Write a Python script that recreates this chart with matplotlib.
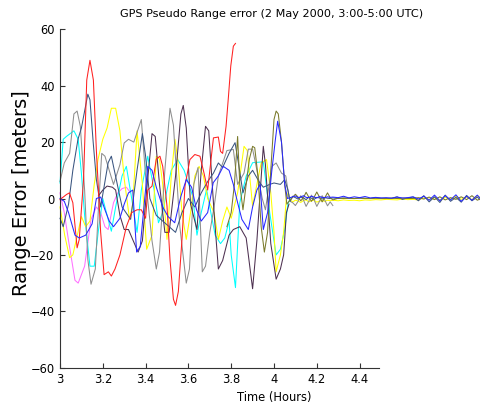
import matplotlib
matplotlib.use("Agg")
import matplotlib.pyplot as plt

# ---------------- data (hours, metres) ----------------
red_t = [3.00,3.03,3.044,3.06,3.08,3.09,3.11,3.125,3.14,3.156,3.17,3.19,3.206,3.226,3.24,3.257,3.28,3.31,3.335,3.36,3.38,3.40,3.41,3.43,3.45,3.467,3.48,3.50,3.514,3.53,3.54,3.553,3.57,3.584,3.607,3.63,3.654,3.673,3.69,3.706,3.717,3.74,3.75,3.76,3.776,3.787,3.798,3.81,3.82]
red_v = [-0.4,1.4,2,-1.5,-17.5,-14.5,6.7,42,49,42,17,-12,-27,-26,-27.5,-25,-20,-10,-5,-4,-4,-7,3,4.4,14,15,11.4,-2.7,-21.6,-35.7,-37.9,-33,-14.5,4.4,13.8,15.6,15,9,3,14,21.5,21.8,16.7,16,25.6,36,47,54,55]

yel_t = [3.00,3.022,3.045,3.06,3.084,3.10,3.12,3.14,3.16,3.178,3.20,3.22,3.24,3.26,3.28,3.30,3.325,3.34,3.36,3.385,3.405,3.43,3.45,3.465,3.48,3.50,3.52,3.537,3.55,3.57,3.59,3.61,3.63,3.65,3.67,3.69,3.72,3.74,3.76,3.78,3.80,3.83,3.86,3.875,3.90,3.92,3.94,3.965,3.985,4.00,4.01,4.03,4.045,4.06,4.075]
yel_v = [-3,-13,-21,-20,-12,-6.4,-10,-8,5,14,21,25,32,32,24,7,-7.4,-2,24,5,-18,-13,15,14,5,-14.5,8,21,14,-5,-14.5,-5,8,11.4,8,0,-5,-14.5,-8,-3,-7,2,18.5,17,-2.7,5,12.6,13.8,2,-12,-26,-20,-12,2,-0.5]

cyan_t = [3.00,3.015,3.03,3.065,3.085,3.10,3.115,3.14,3.16,3.18,3.20,3.225,3.24,3.26,3.29,3.31,3.335,3.36,3.38,3.41,3.44,3.46,3.48,3.50,3.52,3.55,3.58,3.62,3.64,3.66,3.685,3.70,3.725,3.75,3.77,3.79,3.80,3.82,3.84,3.87,3.90,3.95,3.98,4.01,4.03,4.05,4.065,4.075]
cyan_v = [5.5,21,22,24,21,9,-6,-24,-24,-11,0,-7.4,-11.6,-3,8,11.4,0,-12,3,15,3,-8.6,-5,3,10,13.8,10,0.8,-13,-5,3.2,-3,-13,-16,-14,-8,-20,-31.6,-1.5,8,12.7,13,-5,-20,-18,-11,-2,0]

mag_t = [3.00,3.02,3.04,3.07,3.085,3.115,3.145,3.17,3.19,3.21,3.225,3.25,3.27,3.29,3.31,3.33]
mag_v = [2,-5,-15,-29,-30,-24,-7.4,-3,-5,-10,-11,-1.5,2,3.5,4,2]

blue_t = [3.00,3.02,3.04,3.07,3.09,3.12,3.15,3.17,3.19,3.21,3.23,3.25,3.28,3.30,3.32,3.34,3.358,3.375,3.41,3.43,3.45,3.48,3.505,3.536,3.565,3.59,3.615,3.638,3.66,3.69,3.716,3.74,3.763,3.79,3.81,3.83,3.85,3.88,3.90,3.92,3.935,3.95,3.97,3.99,4.005,4.017,4.035,4.05,4.063]
blue_v = [0,-1,-5,-13,-14,-13,-9,0,0.5,-4,-8,-10,-7,-2,2,3,-19,-17,11.4,10,4,-3,-6.4,-8.6,0.8,6.7,4,-4,-8,-5,5.6,8,11.4,10,5,-1.5,-7.4,-11,-3,3,5,-11,-5,10,20,27.4,20,5,0]

steel_t = [3.00,3.015,3.04,3.06,3.084,3.10,3.13,3.14,3.155,3.17,3.19,3.225,3.24,3.26,3.29,3.33,3.36,3.385,3.40,3.42,3.45,3.48,3.51,3.54,3.57,3.60,3.63,3.66,3.69,3.717,3.74,3.76,3.79,3.818,3.835,3.855,3.88,3.90,3.93,3.95,3.98,4.00,4.03,4.05,4.065,4.075]
steel_v = [-7,-10,-2,10,21,25,37,35,20,6.7,-3,12.7,15,7.8,-3,-7.4,10,23,15,0,-6,-8,-10,-12,-5,0,-3,2,6,9,12.6,11,16,19.8,12,2,8,10,6,4,5,5.5,5,6.7,3,-1]

grayA_t = [3.00,3.02,3.045,3.065,3.08,3.095,3.115,3.13,3.145,3.165,3.18,3.195,3.21,3.25,3.28,3.30,3.32,3.345,3.38,3.405,3.43,3.45,3.465,3.49,3.514,3.53,3.56,3.59,3.605,3.625,3.645,3.665,3.68,3.70,3.72,3.74,3.78,3.81,3.83,3.86,3.88,3.90,3.915,3.945,3.96,3.99,4.01,4.035,4.055,4.065,4.075]
grayA_v = [6,12.6,16,30,31,25.6,3,-21.6,-30.4,-25,-3,16,15,5,12,19.7,21,20,28,3,-15,-25,-19,10,32,26,-10,-30,-25,5,11,-26,-24,-12,-3,8,17,17.4,5,9,17.5,17.5,12,0,-4,11.4,12.6,9,8,3,-1]

purp_t = [3.18,3.20,3.22,3.245,3.26,3.28,3.30,3.32,3.34,3.365,3.385,3.405,3.43,3.445,3.465,3.49,3.51,3.54,3.565,3.576,3.59,3.61,3.64,3.66,3.68,3.695,3.72,3.74,3.76,3.79,3.81,3.84,3.87,3.90,3.92,3.95,3.96,3.985,4.01,4.03,4.045,4.058,4.07]
purp_v = [1,3,4.4,4,3,-6,-11,-11,-14.6,-19,-15,3,23,22,5,-12,-12,8,30,33,25,-2,-11,10,25.6,24,-5,-25,-22,-13,-11,-10,-14,-32,-15,18.5,12,-16,-28.6,-25,-20,-5,-2]

olive_t = [3.78,3.80,3.815,3.83,3.84,3.855,3.87,3.885,3.90,3.91,3.925,3.94,3.955,3.97,3.985,4.00,4.01,4.02,4.035,4.05,4.06,4.07]
olive_v = [-10,-5,5,22,5,-4,5,14,18.5,18,8,-10,-19,-12,10,28,31,30,20,5,-2,-1]

# after 4.07 h: small residual errors
post1_t = [4.0875,4.10,4.1125,4.125,4.1375,4.15,4.1625,4.175,4.1875,4.20,4.2125,4.225,4.2375,4.25,4.2625,4.275]
olive_p1 = [0.5,1.5,0.5,-0.8,0.3,2.2,0.5,-1.0,0.5,2.3,0.5,-1.2,0.3,2.0,0.3,-0.5]
grayA_p1 = [-1.5,-2.5,-1.0,1.0,-0.5,-2.8,-1.0,1.2,-0.5,-2.8,-1.0,1.0,-0.6,-2.6,-1.2,-2.5]
blue_p1 = [0.6,0.9,0.3,0.5,1.0,0.4,0.3,0.8,0.5,0.2,0.7,0.4,0.3,0.6,0.4,0.5]
yel_p1 = [-1.2,-0.6,-0.9,-1.4,-0.7,-0.5,-1.2,-0.8,-0.6,-1.3,-0.9,-0.7,-1.0,-0.6,-0.8,-0.6]
steel_p1 = [0.8,0.3,-0.2,0.6,0.2,-0.4,0.5,0.1,-0.3,0.4,0.2,-0.2,0.3,0.1,0.0,0.2]

post2_t = [4.30,4.325,4.35,4.375,4.40,4.425,4.45,4.475,4.50,4.525,4.55,4.575,4.60,4.625,4.65,4.675,4.70,4.725,4.75,4.775,4.80,4.825,4.85,4.875,4.90,4.925,4.95,4.975,5.0]
blue_p2 = [0.3,0.8,0.2,0.6,0.3,0.7,0.2,0.4,0.2,0.3,0.1,0.5,0.2,0.3,0.6,-0.2,0.8,-0.6,1.2,-0.8,1.0,-0.5,1.3,-1.0,0.8,-0.6,1.2,-0.9,0.2]
yel_p2 = [-0.8,-0.5,-0.7,-0.6,-0.8,-0.5,-0.6,-0.4,-0.5,-0.3,-0.4,-0.5,-0.2,-0.4,-0.3,-0.5,0.2,-0.3,0.3,-0.5,0.4,-0.2,0.8,-0.3,0.5,-0.4,1.0,-0.2,0.3]
olive_p2 = [0.1,0.0,0.1,0.0,0.1,0.0,0.0,0.1,0.0,0.0,0.1,0.0,0.1,0.0,0.0,0.3,-0.2,0.5,-0.4,0.6,-0.5,0.3,-0.3,0.6,-0.4,1.0,-0.6,0.2,0.0]
steel_p2 = [0.0,0.2,0.1,0.0,0.2,0.1,0.0,0.2,0.1,0.0,0.1,0.6,-0.3,0.2,0.5,-0.8,1.0,-1.2,0.6,-1.4,1.2,-1.0,0.4,-1.3,1.1,-0.8,0.5,-1.2,0.0]

x_ticks = [3.0, 3.2, 3.4, 3.6, 3.8, 4.0, 4.2, 4.4]
x_labels = ["3", "3.2", "3.4", "3.6", "3.8", "4", "4.2", "4.4"]
y_ticks = [-60, -40, -20, 0, 20, 40, 60]
title = "GPS Pseudo Range error (2 May 2000, 3:00-5:00 UTC)"

# ---------------- figure ----------------
fig = plt.figure(figsize=(4.81, 4.05), dpi=100)
W, H = 481, 405
ax = fig.add_axes([60 / W, 37.3 / H, 428 / W, 338.4 / H])

series = [
    (mag_t, mag_v, "#ff70ff"),
    (cyan_t, cyan_v, "#00ffff"),
    (yel_t + post1_t + post2_t, yel_v + yel_p1 + yel_p2, "#ffff00"),
    (grayA_t + post1_t, grayA_v + grayA_p1, "#8e8e8e"),
    (purp_t, purp_v, "#4d3050"),
    (steel_t + post1_t + post2_t, steel_v + steel_p1 + steel_p2, "#3a5580"),
    (olive_t + post1_t + post2_t, olive_v + olive_p1 + olive_p2, "#7a7a2a"),
    (red_t, red_v, "#ff2020"),
    (blue_t + post1_t + post2_t, blue_v + blue_p1 + blue_p2, "#2828ff"),
]
for t, v, c in series:
    ax.plot(t, v, color=c, lw=0.75, clip_on=False)

ax.set_xlim(3, 5)
ax.set_ylim(-60, 60)
ax.set_xticks(x_ticks)
ax.set_xticklabels(x_labels)
ax.set_yticks(y_ticks)
ax.spines["top"].set_visible(False)
ax.spines["right"].set_visible(False)
ax.spines["bottom"].set_bounds(3, 4.49)
for s in ("left", "bottom"):
    ax.spines[s].set_color("#333333")
    ax.spines[s].set_linewidth(0.8)
ax.tick_params(direction="in", length=3.5, width=0.8, color="#333333",
               labelsize=8.3, pad=4)

fig.text(272 / W, 1 - 14 / H, title, ha="center", va="center", fontsize=8.1)
fig.text(274 / W, 8 / H, "Time (Hours)", ha="center", va="center", fontsize=8.3)
fig.text(22 / W, 1 - 193 / H, "Range Error [meters]", rotation=90,
         ha="center", va="center", fontsize=14)

fig.savefig("out.png", dpi=100)
